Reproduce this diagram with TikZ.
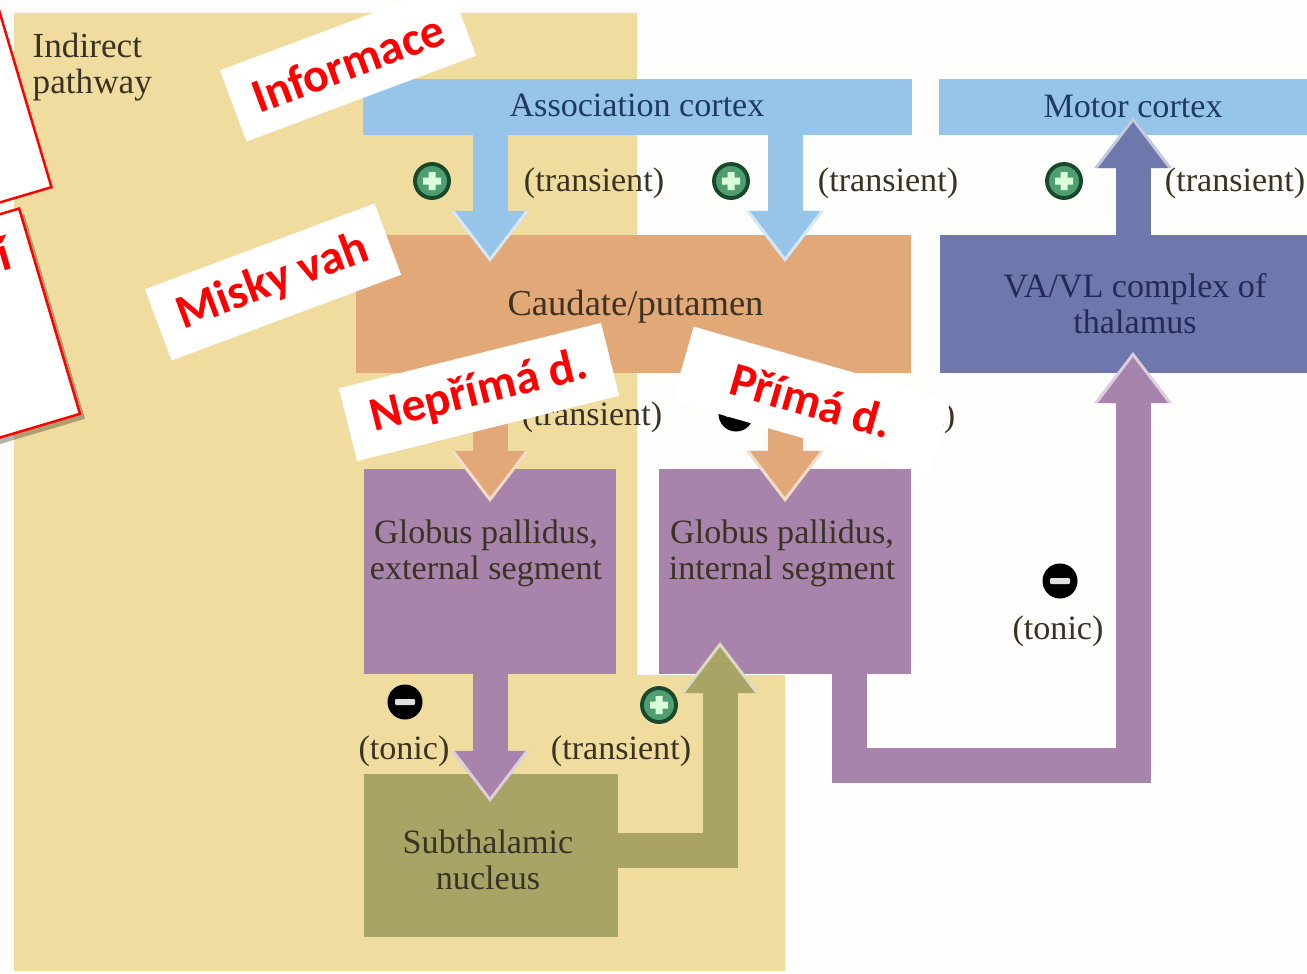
\documentclass[tikz,border=0pt]{standalone}
\usepackage{fontspec}
\setmainfont{Liberation Serif}
\newfontfamily\notefont{Carlito}
\usetikzlibrary{arrows.meta,shadows}
\definecolor{paper}{HTML}{FDFDFB}
\definecolor{panelyellow}{HTML}{F0DC9E}
\definecolor{cortexblue}{HTML}{97C5EA}
\definecolor{caudateorange}{HTML}{E3A878}
\definecolor{thalamusblue}{HTML}{6F78AC}
\definecolor{pallidumpurple}{HTML}{A884AD}
\definecolor{nucleusolive}{HTML}{A8A465}
\definecolor{inkbrown}{HTML}{3A3222}
\definecolor{inkblue}{HTML}{1F3A60}
\definecolor{inknavy}{HTML}{232A58}
\definecolor{plusgreen}{HTML}{4F9E72}
\definecolor{plusring}{HTML}{17492A}
\tikzset{
  area/.style={fill=#1, inner sep=0pt, outer sep=0pt},
  title/.style={font=\fontsize{9.7}{10.2}\selectfont, text=inkbrown, align=center, inner sep=0pt},
  flow/.style={draw=#1, line width=.35cm, line join=miter,
    preaction={draw=#1, shorten >=-.05cm,
      -{Triangle[length=.51cm, width=.78cm, fill=#1!40!white, color=#1!40!white, line width=0pt]}},
    -{Triangle[length=.46cm, width=.70cm, fill=#1, color=#1, line width=0pt]}},
  plusmark/.style={circle, fill=plusgreen, draw=plusring, line width=1.1pt, minimum size=.34cm, inner sep=0pt,
    path picture={\fill[white!85!green] (path picture bounding box.center) +(-9,-3.5) rectangle +(9,3.5)
      (path picture bounding box.center) +(-3.5,-9) rectangle +(3.5,9);}},
  minusmark/.style={circle, fill=black, minimum size=.35cm, inner sep=0pt,
    path picture={\fill[white!88!black, rounded corners=.3pt] (path picture bounding box.center) +(-10,-3) rectangle +(10,3);}},
  note/.style={fill=white, text=red, font=\notefont\bfseries\fontsize{13.6}{15}\selectfont, inner sep=0pt, align=center},
  notecard/.style={fill=white, draw=red, line width=.7pt, inner sep=0pt, minimum width=3cm}
}
\begin{document}
\begin{tikzpicture}[x=.01cm, y=-.01cm]
  \useasboundingbox (0,0) rectangle (1307,973);
  \clip (0,0) rectangle (1307,973);
  \fill[paper] (0,0) rectangle (1307,973);
  \fill[panelyellow] (14,13) -- (637,13) -- (637,675) -- (785,675) -- (785,971) -- (14,971) -- cycle;

  \node [area=cortexblue, minimum width=5.49cm, minimum height=.55cm] (assoc) at (637.5,107) {};
  \node [area=cortexblue, minimum width=3.88cm, minimum height=.55cm] (motor) at (1133,107) {};
  \node [area=caudateorange, minimum width=5.55cm, minimum height=1.38cm] (caudate) at (633.5,304) {};
  \node [area=thalamusblue, minimum width=3.90cm, minimum height=1.38cm] (thalamus) at (1135,304) {};
  \node [area=pallidumpurple, minimum width=2.52cm, minimum height=2.05cm] (gpe) at (490,571.5) {};
  \node [area=pallidumpurple, minimum width=2.52cm, minimum height=2.05cm] (gpi) at (785,571.5) {};
  \node [area=nucleusolive, minimum width=2.54cm, minimum height=1.63cm] (stn) at (491,855.5) {};

  \coordinate (blueA) at (490,257);
  \coordinate (blueB) at (785,257);
  \coordinate (orangeA) at (490,497);
  \coordinate (orangeB) at (785,497);
  \coordinate (motorin) at (1133,122);
  \coordinate (stnin) at (490,797);
  \coordinate (gpiin) at (720,647);
  \coordinate (stnturn) at (720,850);
  \coordinate (gpiout) at (849.5,674);
  \coordinate (gpiturn) at (1133,765);
  \coordinate (thalamusin) at (1133,357);

  \draw[flow=cortexblue] (blueA |- assoc.south) -- (blueA);
  \draw[flow=cortexblue] (blueB |- assoc.south) -- (blueB);
  \draw[flow=caudateorange] (orangeA |- caudate.south) -- (orangeA);
  \draw[flow=caudateorange] (orangeB |- caudate.south) -- (orangeB);
  \draw[flow=thalamusblue] (motorin |- thalamus.north) -- (motorin);
  \draw[flow=pallidumpurple] (stnin |- gpe.south) -- (stnin);
  \draw[flow=nucleusolive] (stn.east |- stnturn) -- (stnturn) -- (gpiin);
  \draw[flow=pallidumpurple] (gpiout) |- (gpiturn) -- (thalamusin);

  \node [title, text=inkblue] (assoctext) at (637,105) {Association cortex};
  \node [title, text=inkblue] (motortext) at (1133,107) {Motor cortex};
  \node [title, font=\fontsize{10.4}{10.9}\selectfont] (caudatetext) at (635.5,307) {Caudate/putamen};
  \node [title, text=inknavy] (thalamustext) at (1135,304) {VA/VL complex of\\thalamus};
  \node [title, anchor=west, align=left, font=\fontsize{10}{10.4}\selectfont] (indirect) at (32,67) {Indirect\\pathway};
  \node [title] (gpetext) at (486,553) {Globus pallidus,\\external segment};
  \node [title] (gpitext) at (782,553) {Globus pallidus,\\internal segment};
  \node [title] (stntext) at (488,860) {Subthalamic\\nucleus};

  \node [title] (transA) at (594,183) {(transient)};
  \node [title] (transB) at (888,183) {(transient)};
  \node [title] (transC) at (1235,183) {(transient)};
  \node [title] (transD) at (592,417) {(transient)};
  \node [title] (transE) at (885,418) {(transient)};
  \node [title] (transF) at (621,751) {(transient)};
  \node [title] (tonicA) at (404,751) {(tonic)};
  \node [title] (tonicB) at (1058,631) {(tonic)};

  \node [plusmark] (plusA) at (432,181) {};
  \node [plusmark] (plusB) at (731,181) {};
  \node [plusmark] (plusC) at (1064,181) {};
  \node [plusmark] (plusD) at (659,705) {};
  \node [minusmark] (minusA) at (405,702) {};
  \node [minusmark] (minusB) at (1060,581) {};
  \node [minusmark] (minusC) at (736,414) {};

  \node [notecard, anchor=south east, rotate=16.5, minimum height=2cm] (cardA) at (53,188) {};
  \node [notecard, anchor=north east, rotate=16.5, minimum height=2.14cm, drop shadow={shadow xshift=.05cm, shadow yshift=-.05cm, fill=black!70!panelyellow, opacity=.4}] (cardB) at (20,207) {};
  \node [text=red, font=\notefont\bfseries\fontsize{14}{15}\selectfont, rotate=16.5, inner sep=0pt] (cardBtext) at (3,253) {í};

  \node [note, rotate=20.5, minimum width=2.45cm, minimum height=.76cm] (info) at (348,63) {Informace};
  \node [note, rotate=20.5, minimum width=2.45cm, minimum height=.76cm] (misky) at (273,282) {Misky vah};
  \node [note, rotate=14, minimum width=2.7cm, minimum height=.75cm] (neprima) at (479,392) {Nepřímá d.};
  \node [note, rotate=-16, minimum width=2.67cm, minimum height=.77cm] (prima) at (811.5,400.5) {Přímá d.};
\end{tikzpicture}
\end{document}
